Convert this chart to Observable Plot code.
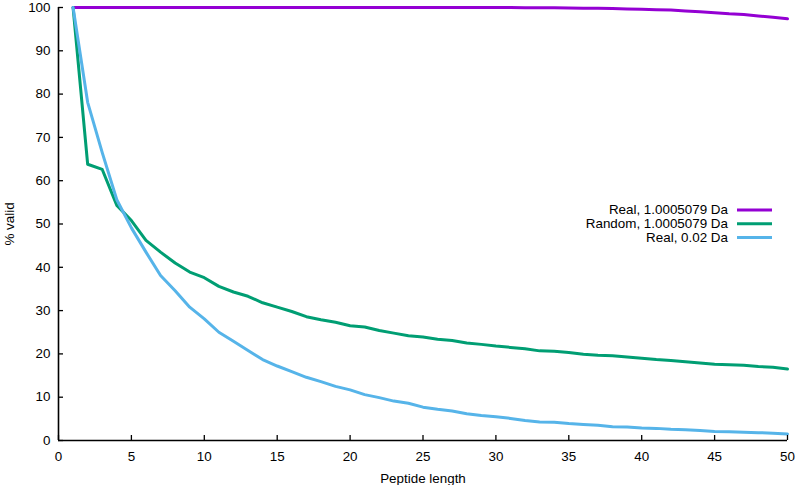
<!DOCTYPE html>
<html>
<head>
<meta charset="utf-8">
<script src="https://cdn.jsdelivr.net/npm/d3@7"></script>
<script src="https://cdn.jsdelivr.net/npm/@observablehq/plot@0.6"></script>
<style>
  html, body { margin: 0; padding: 0; background: #fff; }
  #chart { width: 800px; height: 485px; overflow: hidden; }
</style>
</head>
<body>
<div id="chart"></div>
<script>
// ---- data ----
const peptideLength = d3.range(1, 51);
const seriesNames = ["Real, 1.0005079 Da", "Random, 1.0005079 Da", "Real, 0.02 Da"];
const seriesColors = ["#9400d3", "#009e73", "#56b4e9"];
const realUnit = [100,100,100,100,100,100,100,100,100,100,
                  100,100,100,100,100,100,100,100,100,100,
                  100,100,100,100,100,100,100,100,100,100,
                  99.98,99.97,99.95,99.93,99.9,99.85,99.8,99.75,99.68,99.6,
                  99.5,99.4,99.2,99.0,98.8,98.55,98.4,98.05,97.75,97.4];
const randomUnit = [100,63.8,62.6,54.3,50.8,46.2,43.5,41.0,38.9,37.6,
                    35.6,34.3,33.3,31.8,30.8,29.8,28.6,27.9,27.3,26.5,
                    26.2,25.4,24.8,24.2,23.9,23.4,23.1,22.5,22.2,21.8,
                    21.5,21.2,20.7,20.6,20.3,19.9,19.7,19.6,19.3,19.0,
                    18.7,18.5,18.2,17.9,17.6,17.5,17.4,17.1,16.9,16.5];
const realFine = [100,78.1,66.5,55.6,49.1,43.5,38.1,34.6,30.8,28.1,
                  25.0,22.9,20.8,18.7,17.2,15.9,14.6,13.6,12.5,11.7,
                  10.6,9.9,9.1,8.6,7.7,7.2,6.8,6.2,5.8,5.5,
                  5.1,4.6,4.3,4.2,3.9,3.7,3.5,3.2,3.1,2.9,
                  2.8,2.6,2.5,2.3,2.1,2.0,1.9,1.8,1.7,1.5];
const xTicks = [0,5,10,15,20,25,30,35,40,45,50];
const yTicks = [0,10,20,30,40,50,60,70,80,90,100];
const xLabel = "Peptide length";
const yLabel = "% valid";

// ---- table ----
const seriesValues = [realUnit, randomUnit, realFine];
const rows = [];
seriesNames.forEach((name, s) => {
  peptideLength.forEach((len, i) => rows.push({series: name, length: len, valid: seriesValues[s][i]}));
});

const FONT = "'Liberation Sans', Arial, Helvetica, sans-serif";
const FS = 13.4;

function legend(index, scales, values, dims) {
  const g = d3.create("svg:g")
    .attr("font-family", FONT)
    .attr("font-size", FS + "px")
    .attr("fill", "#000");
  const right = dims.width - dims.marginRight;
  seriesNames.forEach((name, i) => {
    const y = 210 + i * 13.8;
    g.append("text")
      .attr("x", right - 59).attr("y", y).attr("dy", "0.33em")
      .attr("text-anchor", "end").text(name);
    g.append("line")
      .attr("x1", right - 50).attr("x2", right - 15)
      .attr("y1", y).attr("y2", y)
      .attr("stroke", seriesColors[i]).attr("stroke-width", 3);
  });
  return g.node();
}

const chart = Plot.plot({
  width: 800,
  height: 485,
  marginLeft: 58,
  marginRight: 13,
  marginTop: 7,
  marginBottom: 45,
  style: {fontFamily: FONT, fontSize: FS + "px", color: "#000", background: "#fff"},
  x: {domain: [0, 50]},
  y: {domain: [0, 100]},
  color: {domain: seriesNames, range: seriesColors},
  marks: [
    Plot.line(rows, {x: "length", y: "valid", z: "series", stroke: "series", strokeWidth: 3, strokeLinejoin: "round"}),
    Plot.ruleY([0], {stroke: "#000", strokeWidth: 1.6}),
    Plot.ruleX([0], {stroke: "#000", strokeWidth: 1.6}),
    Plot.axisX(xTicks, {tickSize: -5, tickPadding: 16, strokeWidth: 1.3, fontSize: FS, fontFamily: FONT, label: xLabel, labelAnchor: "center", labelOffset: 42, labelArrow: "none"}),
    Plot.axisY(yTicks, {tickSize: -5, tickPadding: 13, strokeWidth: 1.3, fontSize: FS, fontFamily: FONT, label: yLabel, labelAnchor: "center", labelOffset: 54, labelArrow: "none"}),
    legend
  ]
});
document.getElementById("chart").appendChild(chart);
</script>
</body>
</html>
